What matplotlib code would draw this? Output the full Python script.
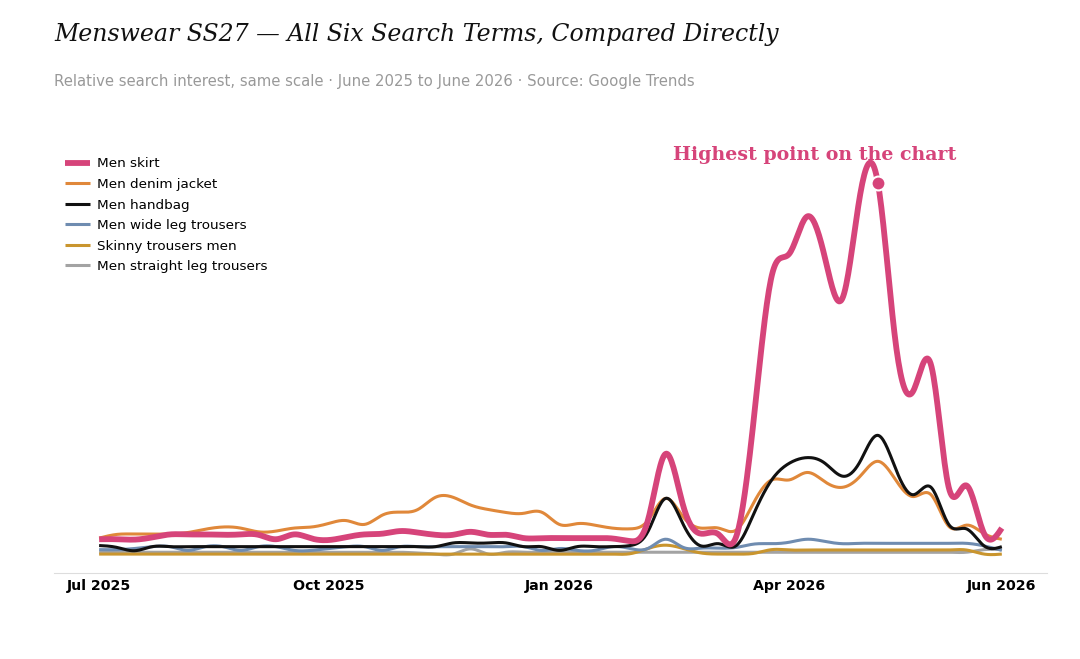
import numpy as np
import matplotlib
matplotlib.use("Agg")
import matplotlib.pyplot as plt

# weekly index, Jul 2025 -> Jun 2026
weeks = np.arange(52)
tick_pos = [0, 13, 26, 39, 51]
tick_labels = ["Jul 2025", "Oct 2025", "Jan 2026", "Apr 2026", "Jun 2026"]

men_skirt = [4, 4, 3.9, 4.5, 5.3, 5.3, 5.3, 5.2, 5.3, 5.2, 4, 5.3, 4.2, 3.8, 4.6, 5.3, 5.5, 6.2, 5.8, 5.2,
             5.2, 6, 5.2, 5.2, 4.3, 4.3, 4.3, 4.3, 4.3, 4.2, 3.5, 9, 27, 13, 5.5, 5.3, 4.8, 37, 75, 81,
             91, 80, 69, 97, 100, 57, 44, 51, 18, 18.5, 5.5, 7]
denim_jacket = [4.3, 5.3, 5.4, 5.4, 5.4, 5.8, 6.7, 7.3, 7, 6, 6.2, 7, 7.3, 8.3, 9, 8, 10.5, 11.3, 12, 15.3,
                15.3, 13.2, 12, 11.2, 11, 11.3, 8, 8.2, 7.8, 7, 6.8, 9, 15, 10, 7, 7, 6.5, 14, 20, 20,
                22, 19.5, 18, 21, 25, 20, 15.5, 16, 7.5, 7.8, 5.5, 4]
handbag = [2.3, 1.8, 0.9, 2, 2, 2, 2, 2, 2, 2, 2, 2, 2, 2, 2, 2, 2, 2, 2, 2,
           3, 3, 3, 3, 2, 2, 1, 2, 2, 2, 2.3, 6, 15, 8, 2.2, 2.8, 2.3, 11, 20, 24.5,
           26, 24.5, 21, 25, 32, 23, 16, 18, 8, 6.8, 2.2, 2]
wide_leg = [1.2, 1.2, 1.5, 2, 2, 1, 2, 2, 1, 2, 2, 1, 1, 1.5, 2, 2, 1, 2, 2, 2,
            2, 2, 2, 2, 2, 1, 1.5, 1, 1, 2, 1.5, 1.5, 4, 1.8, 1.6, 1.6, 1.8, 2.7, 2.8, 3.2,
            4, 3.4, 2.8, 2.9, 2.9, 2.9, 2.9, 2.9, 2.9, 2.9, 2.2, 1]
skinny = [0, 0, 0, 0, 0, 0, 0, 0, 0, 0, 0, 0, 0, 0, 0, 0, 0, 0, 0, 0,
          0, 0, 0, 0, 0, 0, 0, 0, 0, 0, 0.1, 1.5, 2.4, 1.5, 0.3, 0, 0, 0.2, 1.2, 1.1,
          1.1, 1.1, 1.1, 1.1, 1.1, 1.1, 1.1, 1.1, 1.1, 1.1, 0, 0]
straight_leg = [0.5, 0.5, 0.5, 0.5, 0.5, 0.5, 0.5, 0.5, 0.5, 0.5, 0.5, 0.5, 0.5, 0.5, 0.5, 0.5, 0.5, 0.5, 0.3, 0,
                0, 1.4, 0, 0.5, 0.5, 0.5, 0.5, 0.5, 0.5, 0.5, 0.5, 0.5, 0.5, 0.5, 0.5, 0.5, 0.5, 0.5, 0.5, 0.5,
                0.5, 0.5, 0.5, 0.5, 0.5, 0.5, 0.5, 0.5, 0.5, 0.5, 1.2, 1.2]

PINK = "#d6447a"


def smooth(vals, n=900):
    # natural cubic spline through the weekly points
    y = np.asarray(vals, float)
    k = len(y)
    A = np.zeros((k, k))
    b = np.zeros(k)
    A[0, 0] = A[-1, -1] = 1
    for i in range(1, k - 1):
        A[i, i - 1], A[i, i], A[i, i + 1] = 1, 4, 1
        b[i] = 6 * (y[i + 1] - 2 * y[i] + y[i - 1])
    M = np.linalg.solve(A, b)
    xs = np.linspace(0, k - 1, n)
    j = np.clip(np.floor(xs).astype(int), 0, k - 2)
    t = xs - j
    u = 1 - t
    ys = u * y[j] + t * y[j + 1] + (u**3 - u) * M[j] / 6 + (t**3 - t) * M[j + 1] / 6
    return xs, ys


series = [
    ("Men skirt", men_skirt, PINK, 4.2, 10),
    ("Men denim jacket", denim_jacket, "#e0883a", 2.2, 6),
    ("Men handbag", handbag, "#111111", 2.2, 7),
    ("Men wide leg trousers", wide_leg, "#6f8cb0", 2.2, 5),
    ("Skinny trousers men", skinny, "#c9952e", 2.2, 4),
    ("Men straight leg trousers", straight_leg, "#a3a3a3", 2.2, 3),
]

fig = plt.figure(figsize=(10.8, 6.59), dpi=100)
ax = fig.add_axes([0.05, 0.1305, 0.9194, 0.648])

for name, vals, col, lw, z in series:
    xs, ys = smooth(vals)
    ax.plot(xs, ys, color=col, lw=lw, label=name, zorder=z, solid_capstyle="butt")

imax = int(np.argmax(men_skirt))
ax.plot(weeks[imax], men_skirt[imax], "o", ms=10, color=PINK, mec="white", mew=1.5, zorder=11)
ax.text(weeks[imax] - 3.55, 107.5, "Highest point on the chart", color=PINK, fontsize=13.7,
        fontweight="bold", family="DejaVu Serif", ha="center", va="center")

ax.set_xlim(-2.55, 53.55)
ax.set_ylim(-5.1, 110)
ax.set_xticks(tick_pos)
ax.set_xticklabels(tick_labels, fontsize=10.2, fontweight="bold")
ax.tick_params(axis="x", length=0, pad=4)
ax.set_yticks([])
for s in ["top", "right", "left"]:
    ax.spines[s].set_visible(False)
ax.spines["bottom"].set_color("#dddddd")

leg = ax.legend(loc="upper left", frameon=False, fontsize=9.7, handlelength=1.8,
                handletextpad=0.55, borderaxespad=0.45, labelspacing=0.56)

fig.text(0.05, 0.938, "Menswear SS27 \u2014 All Six Search Terms, Compared Directly",
         family="DejaVu Serif", style="italic", fontsize=17, color="#111111", va="baseline")
fig.text(0.05, 0.869, "Relative search interest, same scale \u00b7 June 2025 to June 2026 \u00b7 Source: Google Trends",
         fontsize=10.7, color="#999999", va="baseline")

fig.savefig("out.png", dpi=100)
